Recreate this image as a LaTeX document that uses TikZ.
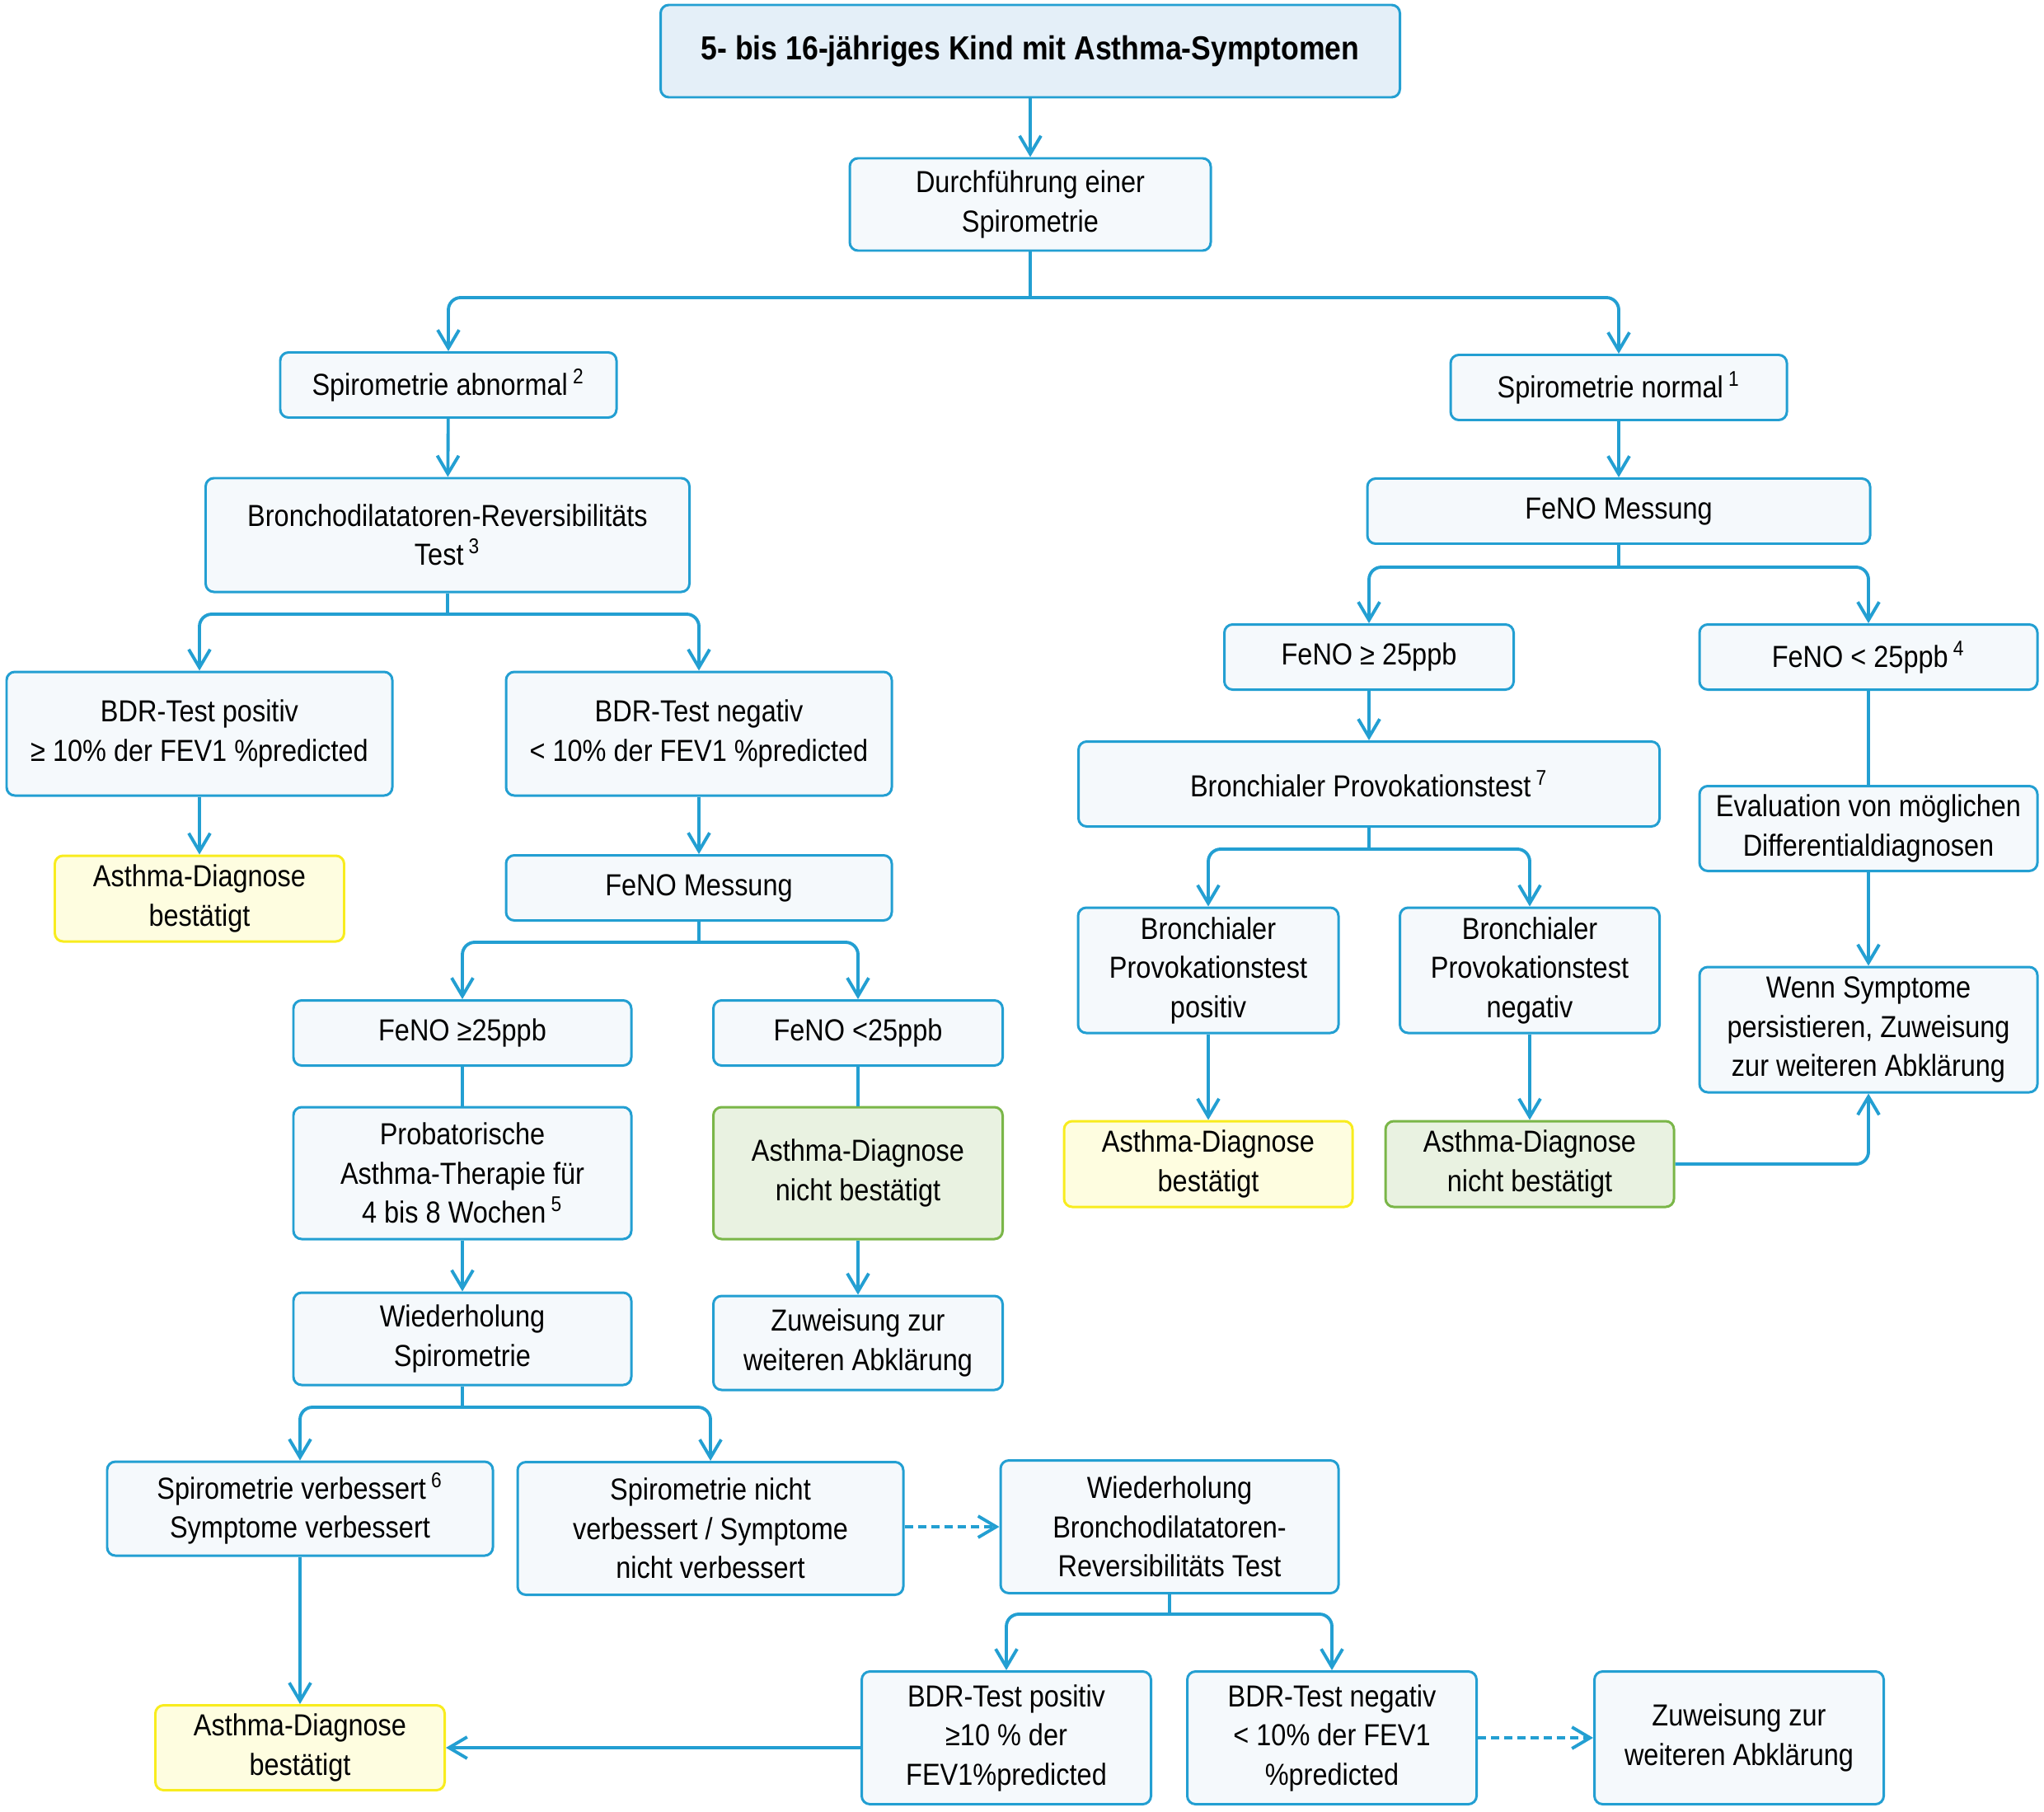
\documentclass[tikz,border=0pt]{standalone}
\usepackage{fontspec}
\setmainfont[FakeStretch=0.88]{Liberation Sans}
\usetikzlibrary{arrows.meta}

\definecolor{LineBlue}{RGB}{35,159,210}
\definecolor{BoxFill}{RGB}{245,249,252}
\definecolor{TitleFill}{RGB}{228,239,248}
\definecolor{YellowFill}{RGB}{254,253,224}
\definecolor{YellowLine}{RGB}{248,236,30}
\definecolor{GreenFill}{RGB}{233,242,225}
\definecolor{GreenLine}{RGB}{122,182,72}

\begin{document}
\begin{tikzpicture}[
	box/.style={draw=LineBlue, fill=BoxFill, line width=0.85pt, rounded corners=1mm,
		align=center, inner sep=0pt, font=\fontsize{10.5}{13.5}\selectfont},
	wh/.style 2 args={minimum width=#1cm, minimum height=#2cm},
	title/.style={box, fill=TitleFill, font=\fontsize{11.5}{13.5}\selectfont\bfseries},
	yes/.style={box, draw=YellowLine, fill=YellowFill},
	no/.style={box, draw=GreenLine, fill=GreenFill},
	link/.style={draw=LineBlue, line width=1.1pt, rounded corners=1.5mm},
	arrow/.style={link, -{Straight Barb[length=2.2mm, width=2.6mm, line width=1.1pt]}},
	dasharrow/.style={arrow, dash pattern=on 1mm off 0.6mm}
]

	\useasboundingbox (0,0) rectangle (24.8,-21.97);

	% Top boxes

	\node [title, wh={8.97}{1.12}] (start) at (12.50,-0.62) {5- bis 16-jähriges Kind mit Asthma-Symptomen};
	\node [box, wh={4.38}{1.12}] (spiro) at (12.50,-2.48) {Durchführung einer\\Spirometrie};
	\node [box, wh={4.08}{0.79}] (abnormal) at (5.44,-4.67) {Spirometrie abnormal\,\textsuperscript{2}};
	\node [box, wh={4.08}{0.79}] (normal) at (19.64,-4.70) {Spirometrie normal\,\textsuperscript{1}};

	% Left branch

	\node [box, wh={5.87}{1.38}] (bdrtest) at (5.43,-6.49) {Bronchodilatatoren-Reversibilitäts\\Test\,\textsuperscript{3}};
	\node [box, wh={4.68}{1.50}] (bdrpos) at (2.42,-8.90) {BDR-Test positiv\\≥ 10\% der FEV1 \%predicted};
	\node [box, wh={4.68}{1.50}] (bdrneg) at (8.48,-8.90) {BDR-Test negativ\\< 10\% der FEV1 \%predicted};
	\node [yes, wh={3.51}{1.04}] (diagA) at (2.42,-10.90) {Asthma-Diagnose\\bestätigt};
	\node [box, wh={4.68}{0.79}] (fenoL) at (8.48,-10.77) {FeNO Messung};
	\node [box, wh={4.10}{0.79}] (fenoLhigh) at (5.61,-12.53) {FeNO ≥25ppb};
	\node [box, wh={3.51}{0.79}] (fenoLlow) at (10.41,-12.53) {FeNO <25ppb};
	\node [box, wh={4.10}{1.60}] (trial) at (5.61,-14.23) {Probatorische\\Asthma-Therapie für\\4 bis 8 Wochen\,\textsuperscript{5}};
	\node [no, wh={3.51}{1.60}] (nodiagA) at (10.41,-14.23) {Asthma-Diagnose\\nicht bestätigt};
	\node [box, wh={4.10}{1.12}] (respiro) at (5.61,-16.24) {Wiederholung\\Spirometrie};
	\node [box, wh={3.51}{1.14}] (referA) at (10.41,-16.29) {Zuweisung zur\\weiteren Abklärung};
	\node [box, wh={4.68}{1.14}] (improved) at (3.64,-18.30) {Spirometrie verbessert\,\textsuperscript{6}\\Symptome verbessert};
	\node [box, wh={4.68}{1.61}] (notimproved) at (8.62,-18.54) {Spirometrie nicht\\verbessert / Symptome\\nicht verbessert};
	\node [box, wh={4.10}{1.61}] (rebdr) at (14.19,-18.52) {Wiederholung\\Bronchodilatatoren-\\Reversibilitäts Test};
	\node [yes, wh={3.51}{1.03}] (diagB) at (3.64,-21.20) {Asthma-Diagnose\\bestätigt};
	\node [box, wh={3.51}{1.61}] (rebdrpos) at (12.21,-21.08) {BDR-Test positiv\\≥10 \% der\\FEV1\%predicted};
	\node [box, wh={3.51}{1.61}] (rebdrneg) at (16.16,-21.08) {BDR-Test negativ\\< 10\% der FEV1\\\%predicted};
	\node [box, wh={3.51}{1.61}] (referB) at (21.10,-21.08) {Zuweisung zur\\weiteren Abklärung};

	% Right branch

	\node [box, wh={6.10}{0.79}] (fenoR) at (19.64,-6.20) {FeNO Messung};
	\node [box, wh={3.51}{0.79}] (fenoRhigh) at (16.61,-7.97) {FeNO ≥ 25ppb};
	\node [box, wh={4.10}{0.79}] (fenoRlow) at (22.67,-7.97) {FeNO < 25ppb\,\textsuperscript{4}};
	\node [box, wh={7.05}{1.03}] (provo) at (16.61,-9.51) {Bronchialer Provokationstest\,\textsuperscript{7}};
	\node [box, wh={4.10}{1.03}] (evaluation) at (22.67,-10.05) {Evaluation von möglichen\\Differentialdiagnosen};
	\node [box, wh={3.16}{1.52}] (provopos) at (14.66,-11.77) {Bronchialer\\Provokationstest\\positiv};
	\node [box, wh={3.15}{1.52}] (provoneg) at (18.56,-11.77) {Bronchialer\\Provokationstest\\negativ};
	\node [box, wh={4.10}{1.52}] (persist) at (22.67,-12.49) {Wenn Symptome\\persistieren, Zuweisung\\zur weiteren Abklärung};
	\node [yes, wh={3.50}{1.04}] (diagC) at (14.66,-14.12) {Asthma-Diagnose\\bestätigt};
	\node [no, wh={3.50}{1.04}] (nodiagC) at (18.56,-14.12) {Asthma-Diagnose\\nicht bestätigt};

	% Split points

	\coordinate (split1) at (spiro.south |- 0,-3.61);
	\coordinate (split2) at (bdrtest.south |- 0,-7.45);
	\coordinate (split3) at (fenoL.south |- 0,-11.43);
	\coordinate (split4) at (respiro.south |- 0,-17.07);
	\coordinate (split5) at (rebdr.south |- 0,-19.58);
	\coordinate (split6) at (fenoR.south |- 0,-6.88);
	\coordinate (split7) at (provo.south |- 0,-10.30);

	% Connectors

	\draw [arrow] (start) -- (spiro);
	\draw [link] (spiro) -- (split1);
	\draw [arrow] (split1) -| (abnormal);
	\draw [arrow] (split1) -| (normal);

	\draw [arrow] (abnormal) -- (bdrtest);
	\draw [link] (bdrtest) -- (split2);
	\draw [arrow] (split2) -| (bdrpos);
	\draw [arrow] (split2) -| (bdrneg);
	\draw [arrow] (bdrpos) -- (diagA);
	\draw [arrow] (bdrneg) -- (fenoL);
	\draw [link] (fenoL) -- (split3);
	\draw [arrow] (split3) -| (fenoLhigh);
	\draw [arrow] (split3) -| (fenoLlow);
	\draw [link] (fenoLhigh) -- (trial);
	\draw [link] (fenoLlow) -- (nodiagA);
	\draw [arrow] (trial) -- (respiro);
	\draw [arrow] (nodiagA) -- (referA);
	\draw [link] (respiro) -- (split4);
	\draw [arrow] (split4) -| (improved);
	\draw [arrow] (split4) -| (notimproved);
	\draw [arrow] (improved) -- (diagB);
	\draw [dasharrow] (notimproved.east |- rebdr) -- (rebdr);
	\draw [link] (rebdr) -- (split5);
	\draw [arrow] (split5) -| (rebdrpos);
	\draw [arrow] (split5) -| (rebdrneg);
	\draw [arrow] (rebdrpos.west |- diagB) -- (diagB);
	\draw [dasharrow] (rebdrneg) -- (referB);

	\draw [arrow] (normal) -- (fenoR);
	\draw [link] (fenoR) -- (split6);
	\draw [arrow] (split6) -| (fenoRhigh);
	\draw [arrow] (split6) -| (fenoRlow);
	\draw [arrow] (fenoRhigh) -- (provo);
	\draw [link] (fenoRlow) -- (evaluation);
	\draw [arrow] (evaluation) -- (persist);
	\draw [link] (provo) -- (split7);
	\draw [arrow] (split7) -| (provopos);
	\draw [arrow] (split7) -| (provoneg);
	\draw [arrow] (provopos) -- (diagC);
	\draw [arrow] (provoneg) -- (nodiagC);
	\draw [arrow] (nodiagC) -| (persist);

\end{tikzpicture}
\end{document}
